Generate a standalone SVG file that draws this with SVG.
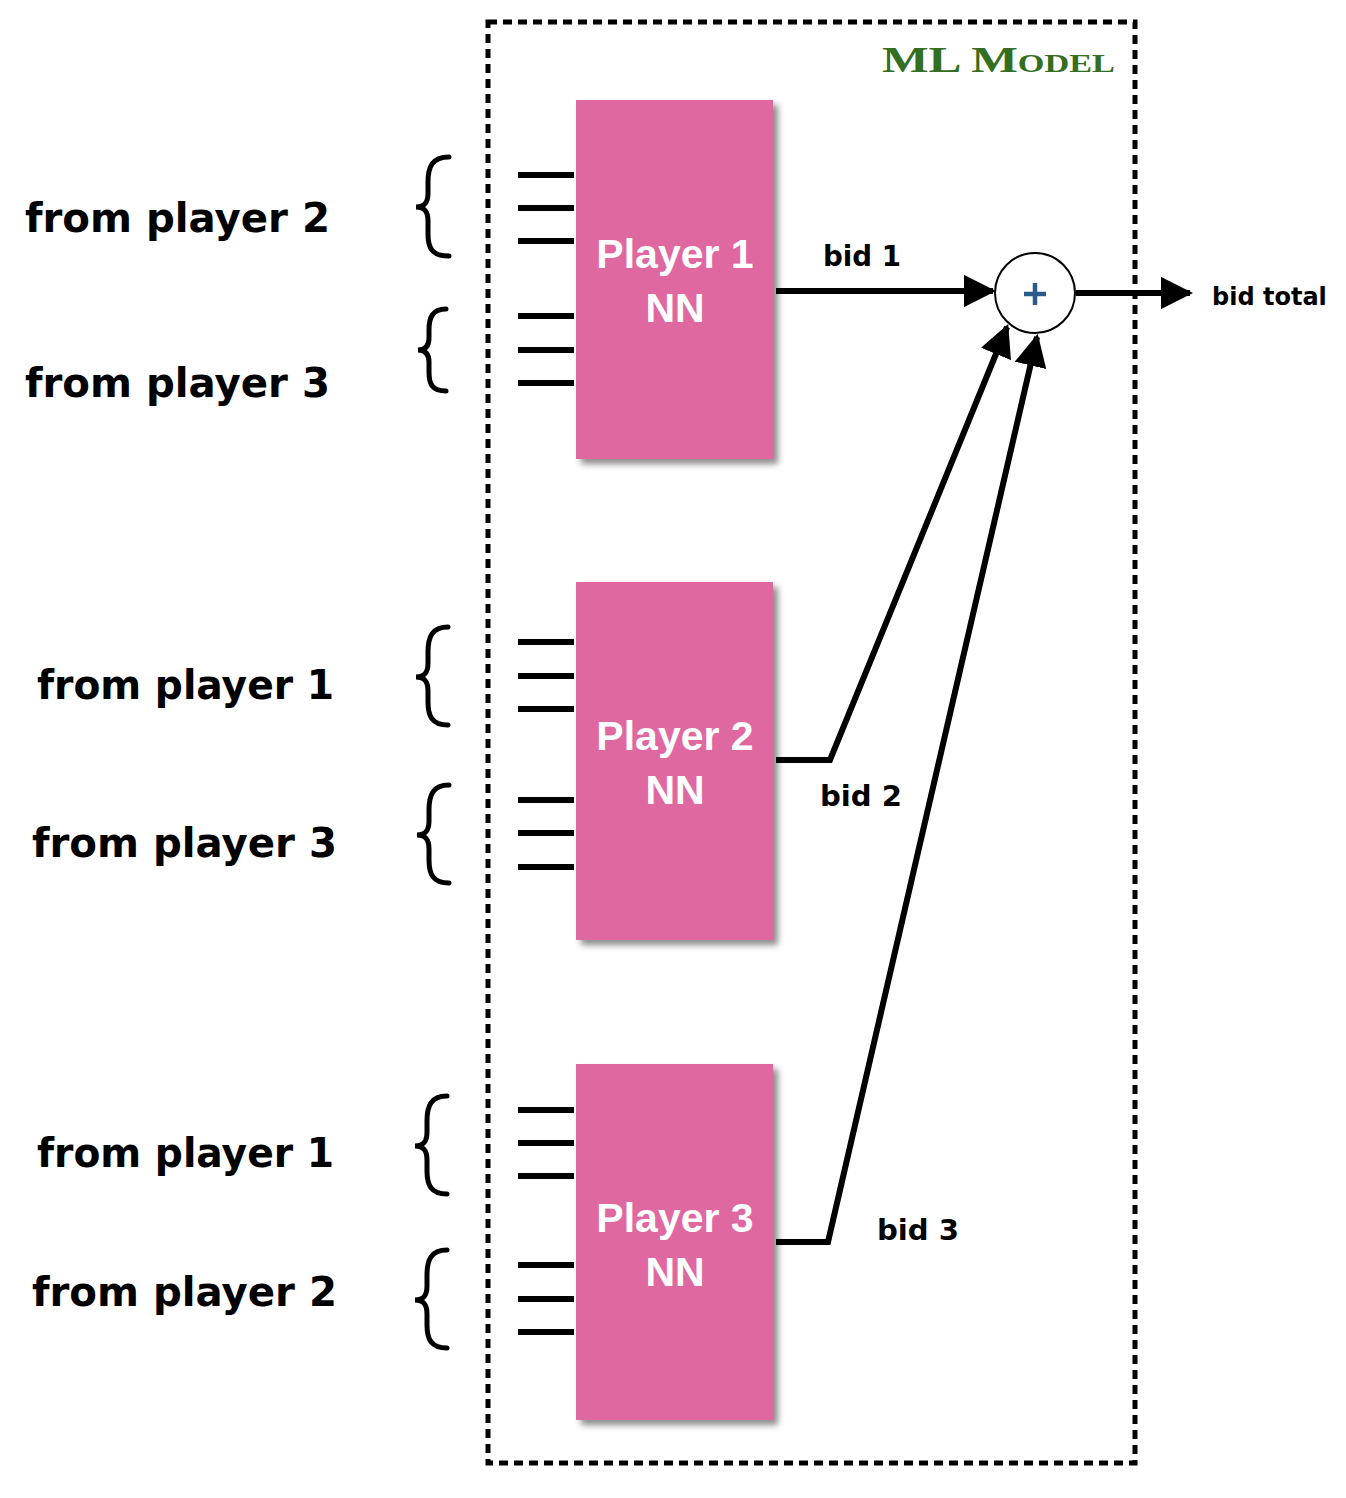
<svg xmlns="http://www.w3.org/2000/svg" width="1346" height="1498" viewBox="0 0 1346 1498">
<style>
.lbl{font-family:"DejaVu Sans","Liberation Sans",sans-serif;font-weight:bold;fill:#000}
.big{font-size:40px}
.bid{font-size:28px}
.nn{font-family:"Liberation Sans",Arial,sans-serif;font-size:41px;font-weight:bold;fill:#fff;text-anchor:middle}
.box{fill:#df68a1}
.in{stroke:#000;stroke-width:6}
.br{fill:none;stroke:#000;stroke-width:5;stroke-linecap:round}
.conn{fill:none;stroke:#000;stroke-width:6}
</style>
<defs>
<filter id="sh" x="-10%" y="-10%" width="130%" height="130%">
<feDropShadow dx="5" dy="5" stdDeviation="3" flood-color="#000" flood-opacity="0.45"/>
</filter>
<marker id="ah" viewBox="0 0 10 10" refX="9" refY="5" markerWidth="5.4" markerHeight="5.4" markerUnits="strokeWidth" orient="auto">
<path d="M0,0 L10,5 L0,10 z" fill="#000"/>
</marker>
</defs>
<rect width="1346" height="1498" fill="#fff"/>
<g id="container">
<rect x="488" y="22" width="647" height="1441" fill="none" stroke="#000" stroke-width="5" stroke-dasharray="9,6"/>
<text x="882" y="72" font-family="Liberation Serif,serif" font-weight="bold" font-size="36" fill="#336e21" style="font-variant:small-caps" textLength="233" lengthAdjust="spacingAndGlyphs">ML Model</text>
</g>
<g id="labels">
<text class="lbl big" x="25" y="232" textLength="305" lengthAdjust="spacingAndGlyphs">from player 2</text>
<text class="lbl big" x="25" y="397" textLength="305" lengthAdjust="spacingAndGlyphs">from player 3</text>
<text class="lbl big" x="37" y="699" textLength="297" lengthAdjust="spacingAndGlyphs">from player 1</text>
<text class="lbl big" x="32" y="857" textLength="305" lengthAdjust="spacingAndGlyphs">from player 3</text>
<text class="lbl big" x="37" y="1167" textLength="297" lengthAdjust="spacingAndGlyphs">from player 1</text>
<text class="lbl big" x="32" y="1306" textLength="305" lengthAdjust="spacingAndGlyphs">from player 2</text>
</g>
<g id="braces">
<path class="br" d="M449,157 C432,157 428,167 428,182 L428,193 C428,202 425,207 416,207 C425,207 428,212 428,221 L428,234 C428,248 432,256 449,256"/>
<path class="br" d="M446,309 C432,309 429,318 429,330 L429,338 C429,345 426,350 418,350 C426,350 429,355 429,362 L429,372 C429,384 432,391 446,391"/>
<path class="br" d="M448,627 C432,627 428,637 428,652 L428,663 C428,672 425,677 416,677 C425,677 428,682 428,691 L428,702 C428,716 432,725 448,725"/>
<path class="br" d="M449,785 C433,785 429,795 429,810 L429,821 C429,830 426,835 417,835 C426,835 429,840 429,849 L429,860 C429,874 433,883 449,883"/>
<path class="br" d="M447,1096 C431,1096 427,1106 427,1121 L427,1132 C427,1141 424,1146 415,1146 C424,1146 427,1151 427,1160 L427,1171 C427,1185 431,1194 447,1194"/>
<path class="br" d="M447,1250 C431,1250 427,1260 427,1275 L427,1286 C427,1295 424,1300 415,1300 C424,1300 427,1305 427,1314 L427,1325 C427,1339 431,1348 447,1348"/>
</g>
<g id="inputs">
<line class="in" x1="518" y1="175" x2="574" y2="175"/>
<line class="in" x1="518" y1="208" x2="574" y2="208"/>
<line class="in" x1="518" y1="241" x2="574" y2="241"/>
<line class="in" x1="518" y1="316" x2="574" y2="316"/>
<line class="in" x1="518" y1="350" x2="574" y2="350"/>
<line class="in" x1="518" y1="383" x2="574" y2="383"/>
<line class="in" x1="518" y1="642" x2="574" y2="642"/>
<line class="in" x1="518" y1="676" x2="574" y2="676"/>
<line class="in" x1="518" y1="709" x2="574" y2="709"/>
<line class="in" x1="518" y1="800" x2="574" y2="800"/>
<line class="in" x1="518" y1="833" x2="574" y2="833"/>
<line class="in" x1="518" y1="867" x2="574" y2="867"/>
<line class="in" x1="518" y1="1110" x2="574" y2="1110"/>
<line class="in" x1="518" y1="1143" x2="574" y2="1143"/>
<line class="in" x1="518" y1="1176" x2="574" y2="1176"/>
<line class="in" x1="518" y1="1265" x2="574" y2="1265"/>
<line class="in" x1="518" y1="1299" x2="574" y2="1299"/>
<line class="in" x1="518" y1="1332" x2="574" y2="1332"/>
</g>
<g id="player1">
<rect class="box" x="576" y="100" width="197" height="359" filter="url(#sh)"/>
<text class="nn" x="675" y="268">Player 1</text>
<text class="nn" x="675" y="322">NN</text>
</g>
<g id="player2">
<rect class="box" x="576" y="582" width="197" height="358" filter="url(#sh)"/>
<text class="nn" x="675" y="750">Player 2</text>
<text class="nn" x="675" y="804">NN</text>
</g>
<g id="player3">
<rect class="box" x="576" y="1064" width="197" height="356" filter="url(#sh)"/>
<text class="nn" x="675" y="1232">Player 3</text>
<text class="nn" x="675" y="1286">NN</text>
</g>
<g id="sum">
<circle cx="1035" cy="293" r="40" fill="#fff" stroke="#000" stroke-width="2"/>
<path d="M1035,283 V305 M1024,294 H1046" stroke="#2a5a8a" stroke-width="4.5"/>
</g>
<g id="connectors">
<path class="conn" d="M776,291 H993" marker-end="url(#ah)"/>
<path class="conn" d="M1076,293 H1190" marker-end="url(#ah)"/>
<path class="conn" d="M776,760 H830 L1007,327" marker-end="url(#ah)"/>
<path class="conn" d="M776,1242 H828 L1037,337" marker-end="url(#ah)"/>
</g>
<g id="bidlabels">
<text class="lbl bid" x="823" y="266" textLength="78" lengthAdjust="spacingAndGlyphs">bid 1</text>
<text class="lbl bid" x="820" y="806" textLength="82" lengthAdjust="spacingAndGlyphs">bid 2</text>
<text class="lbl bid" x="877" y="1240" textLength="82" lengthAdjust="spacingAndGlyphs">bid 3</text>
<text class="lbl" x="1212" y="305" font-size="24">bid total</text>
</g>
</svg>
